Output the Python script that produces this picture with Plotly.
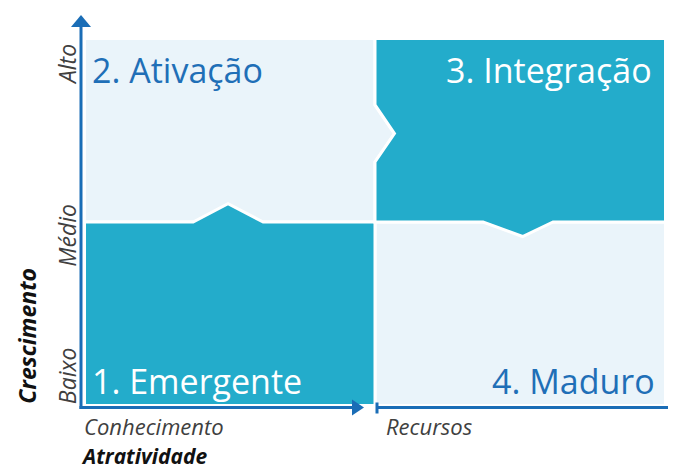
import plotly.graph_objects as go

# ---- data ----
x_levels = ["Conhecimento", "Recursos"]          # columns (Atratividade)
y_levels = ["Baixo", "Médio", "Alto"]              # Crescimento tick labels
x_title = "Atratividade"
y_title = "Crescimento"
quad_labels = ["1. Emergente", "2. Ativação", "3. Integração", "4. Maduro"]
quad_col = [0, 0, 1, 1]
quad_row = [0, 1, 1, 0]
quad_active = [True, False, True, False]

# ---- styles ----
TEAL = "#23ACCB"
LIGHT = "#EAF4FA"
BLUE = "#1F6FB7"
AXIS = "#1A6DB6"
GRAY = "#404040"
FONT = "Open Sans"

W, H = 676, 471
OFF = 8  # page body margin
PX0, PXU = 84.5 - OFF, 290.5
PY0, PYU = 405.5 - OFF, 183.5
xr = [(0 - PX0) / PXU, (W - PX0) / PXU]
yr = [(PY0 - H) / PYU, (PY0 - 0) / PYU]
dx = 1 / PXU
dy = 1 / PYU

def path(pts):
    return "M " + " L ".join(f"{x:.4f},{y:.4f}" for x, y in pts) + " Z"

shapes = []
def add(pts, fill, lw=3, lc="white"):
    shapes.append(dict(type="path", path=path(pts), xref="x", yref="y",
                       fillcolor=fill, line=dict(color=lc, width=lw), layer="below"))

# connector decorations (fractions of cells)
b1 = (0.374, 0.494, 0.615, 0.10)      # Q1 top bump: start, apex, end, height
n3 = (0.327, 0.482, 0.638, 0.067)     # Q3 left notch (Q2 protrusion)
b3 = (0.372, 0.508, 0.613, 0.079)     # Q3 bottom bump

# Q2 light (with protrusion to the right)
add([(0, 1), (0, 2), (1, 2), (1, 1 + n3[2]), (1 + n3[3], 1 + n3[1]), (1, 1 + n3[0]), (1, 1)], LIGHT)
# Q4 light
add([(1, 0), (1, 1), (2, 1), (2, 0)], LIGHT)
# Q1 teal with upward bump
add([(0, 0), (0, 1), (b1[0], 1), (b1[1], 1 + b1[3]), (b1[2], 1), (1, 1), (1, 0)], TEAL)
# Q3 teal with left notch and bottom bump
add([(1, 1), (1, 1 + n3[0]), (1 + n3[3], 1 + n3[1]), (1, 1 + n3[2]), (1, 2), (2, 2), (2, 1),
     (1 + b3[2], 1), (1 + b3[1], 1 - b3[3]), (1 + b3[0], 1)], TEAL)

# axes
ax_x = -3.5 * dx
ax_y = -2.0 * dy
shapes.append(dict(type="line", xref="x", yref="y", x0=ax_x, x1=ax_x, y0=ax_y - 1.5 * dy, y1=2 + 12 * dy,
                   line=dict(color=AXIS, width=3)))
add([(ax_x - 10 * dx, 2 + 11.5 * dy), (ax_x + 10 * dx, 2 + 11.5 * dy), (ax_x, 2 + 23.5 * dy)], AXIS, lw=0, lc=AXIS)
shapes.append(dict(type="line", xref="x", yref="y", x0=ax_x - 1.5 * dx, x1=1 - 22 * dx, y0=ax_y, y1=ax_y,
                   line=dict(color=AXIS, width=3)))
add([(1 - 23 * dx, ax_y + 8 * dy), (1 - 23 * dx, ax_y - 8 * dy), (1 - 11 * dx, ax_y)], AXIS, lw=0, lc=AXIS)
shapes.append(dict(type="line", xref="x", yref="y", x0=1 + 2 * dx, x1=2 + 8 * dx, y0=ax_y, y1=ax_y,
                   line=dict(color=AXIS, width=3)))
shapes.append(dict(type="line", xref="x", yref="y", x0=1 + 2 * dx, x1=1 + 2 * dx, y0=ax_y - 6 * dy, y1=ax_y + 5 * dy,
                   line=dict(color=AXIS, width=3)))
add([(2 + 7 * dx, ax_y + 8 * dy), (2 + 7 * dx, ax_y - 8 * dy), (2 + 19 * dx, ax_y)], AXIS, lw=0, lc=AXIS)

annotations = []
right_pad = {2: 11.5, 3: 8.5}
for k, (lab, c, r, act) in enumerate(zip(quad_labels, quad_col, quad_row, quad_active)):
    left = (c == 0)
    top = (r == 1)
    annotations.append(dict(
        text=lab, xref="x", yref="y", showarrow=False,
        x=c + (5 * dx if left else 1 - right_pad[k] * dx),
        xanchor="left" if left else "right",
        y=r + (1 - 31 * dy if top else 25 * dy), yanchor="middle",
        font=dict(family=FONT, size=34, color="white" if act else BLUE)))

# y tick labels
ytick_pos = [0.16, 0.925, 1.855]
for lab, yp in zip(y_levels, ytick_pos):
    annotations.append(dict(text=f"<i>{lab}</i>", xref="x", yref="y", showarrow=False,
                            x=ax_x - 14 * dx, y=yp, textangle=-90, xanchor="center", yanchor="middle",
                            font=dict(family=FONT, size=23, color=GRAY)))
# x tick labels
for i, lab in enumerate(x_levels):
    annotations.append(dict(text=f"<i>{lab}</i>", xref="x", yref="y", showarrow=False,
                            x=i + (-3 * dx if i == 0 else 9 * dx), y=-20 * dy, xanchor="left", yanchor="middle",
                            font=dict(family=FONT, size=22, color=GRAY)))
# axis titles
annotations.append(dict(text=f"<b><i>{y_title}</i></b>", xref="x", yref="y", showarrow=False,
                        x=ax_x - 54 * dx, y=0.38, textangle=-90, xanchor="center", yanchor="middle",
                        font=dict(family=FONT, size=23, color="#111111")))
annotations.append(dict(text=f"<b><i>{x_title}</i></b>", xref="x", yref="y", showarrow=False,
                        x=-6 * dx, y=-50.5 * dy, xanchor="left", yanchor="middle",
                        font=dict(family=FONT, size=21, color="#111111")))

fig = go.Figure()
fig.update_layout(
    width=W, height=H, margin=dict(l=0, r=0, t=0, b=0),
    paper_bgcolor="white", plot_bgcolor="white",
    xaxis=dict(range=xr, visible=False, fixedrange=True),
    yaxis=dict(range=yr, visible=False, fixedrange=True),
    shapes=shapes, annotations=annotations, showlegend=False,
)
fig.write_html("out.html")
